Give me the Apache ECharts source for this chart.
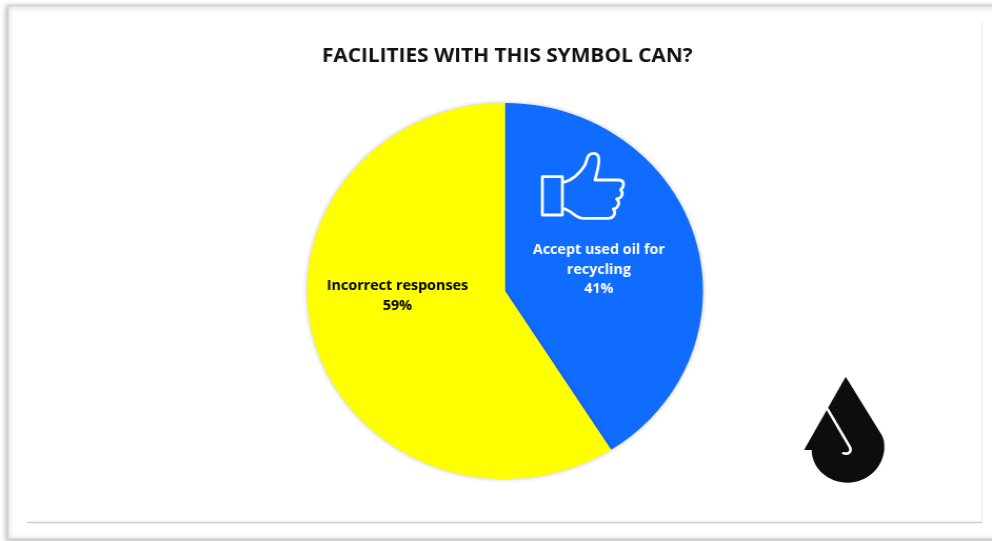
<!DOCTYPE html>
<html><head><meta charset="utf-8">
<style>html,body{margin:0;padding:0;background:#fff;overflow:hidden}
#c{width:942px;height:541px;transform-origin:0 0;transform:scaleX(1.0531)}</style>
<script src="https://cdn.jsdelivr.net/npm/echarts@6/dist/echarts.min.js"></script></head>
<body><div id="c"></div>
<script>
const titleText = 'FACILITIES WITH THIS SYMBOL CAN?';
const categories = ['Accept used oil for\nrecycling', 'Incorrect responses'];
const values = [41, 59];
const colors = ['#0f6cff', '#ffff00'];
const labelColors = ['#ffffff', '#000000'];

const S = 1.0531;
const X = v => v / S;
const thumbPath = 'M127 140H187V255H127Z M190 157C215 152 240 130 255 105C262 90 260 70 280 70C297 70 298 85 296 100C294 120 288 135 285 150H355C372 150 376 165 362 180C372 190 365 205 350 207C362 215 355 235 340 237C350 250 340 265 325 265H250C225 265 215 240 190 236';
const dropPath = 'M197 50L305 225C313 240 313 250 313 265C310 325 260 368 203 368C145 368 95 325 95 270H72Z';
const hookPath = 'M143 148L210 262C216 275 205 284 190 280';
[['thumbIcon', thumbPath], ['dropIcon', dropPath], ['hookIcon', hookPath]].forEach(([n, d]) =>
  echarts.graphic.registerShape(n, echarts.graphic.extendPath(d)));
const zoomed = (type, ox, oy, style) => ({
  type, x: X(ox), y: oy, scaleX: 1 / (3 * S), scaleY: 1 / 3, style, silent: true, z: 10
});
const chart = echarts.init(document.getElementById('c'));
chart.setOption({
  animation: false,
  backgroundColor: '#ffffff',
  title: {
    text: titleText, left: X(502), top: 41, textAlign: 'center',
    textStyle: { fontFamily: 'Open Sans', fontWeight: 700, fontSize: 19.8, color: '#111111' }
  },
  graphic: [
    { type: 'rect', z: -5, shape: { x: X(8), y: 5.5, width: X(1020), height: 533.5 },
      style: { fill: '#fff', stroke: '#d4d4d4', lineWidth: 1.5, shadowBlur: 5, shadowColor: 'rgba(0,0,0,0.35)', shadowOffsetX: -1, shadowOffsetY: 1 } },
    { type: 'line', z: -4, shape: { x1: X(982), y1: 22, x2: X(982), y2: 522 }, style: { stroke: '#efefef', lineWidth: 1.5 } },
    { type: 'line', z: -4, shape: { x1: X(27), y1: 522.5, x2: X(982), y2: 522.5 }, style: { stroke: '#cccccc', lineWidth: 1.6 } },
    zoomed('thumbIcon', 500, 130, { fill: 'none', stroke: '#ffffff', lineWidth: 8.5, lineJoin: 'round' }),
    zoomed('dropIcon', 780, 360, { fill: '#0d0d0d' }),
    zoomed('hookIcon', 780, 360, { fill: 'none', stroke: '#ffffff', lineWidth: 8, lineCap: 'round' })
  ],
  series: [{
    type: 'pie',
    center: [X(505), 291],
    radius: 188,
    startAngle: 90,
    clockwise: true,
    silent: true,
    data: categories.map((name, i) => ({
      name, value: values[i],
      itemStyle: { color: colors[i] },
      label: { color: labelColors[i] }
    })),
    itemStyle: { shadowBlur: 4, shadowColor: 'rgba(0,0,0,0.25)' },
    label: {
      position: 'inner', formatter: '{b}\n{d}%', fontFamily: 'Open Sans',
      fontWeight: 700, fontSize: 13.6, lineHeight: 19.5, align: 'center'
    },
    labelLine: { show: false },
    labelLayout: p => p.dataIndex === 0 ? { dx: -4, dy: 6 } : { dx: -9, dy: -22 }
  }]
});
</script></body></html>
